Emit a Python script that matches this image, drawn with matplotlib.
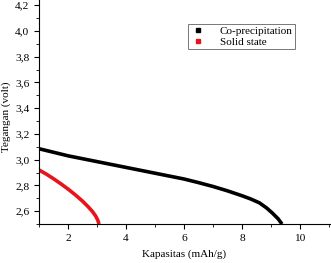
import matplotlib
matplotlib.use("Agg")
import matplotlib.pyplot as plt
from matplotlib.lines import Line2D
from matplotlib.ticker import MultipleLocator, FuncFormatter

# Co-precipitation discharge curve
co_x = [1.0, 2.0, 3.0, 4.0, 5.0, 6.0, 6.5, 7.0, 7.5, 8.0, 8.3, 8.6, 8.85, 9.05, 9.25, 9.38]
co_y = [3.085, 3.03, 2.985, 2.94, 2.895, 2.85, 2.822, 2.792, 2.758, 2.72, 2.695, 2.665, 2.625, 2.585, 2.54, 2.5]

# Solid state discharge curve
ss_x = [1.0, 1.25, 1.5, 1.75, 2.0, 2.25, 2.5, 2.7, 2.85, 2.95, 3.02, 3.07]
ss_y = [2.92, 2.888, 2.852, 2.813, 2.772, 2.727, 2.678, 2.633, 2.595, 2.563, 2.533, 2.5]

labels = ["Co-precipitation", "Solid state"]
colors = ["black", "#e8141b"]

plt.rcParams["font.family"] = ["Liberation Serif", "DejaVu Serif"]

fig = plt.figure(figsize=(3.31, 2.63), dpi=100)
ax = fig.add_axes([0.118, 0.148, 0.882, 0.852])

ax.plot(co_x, co_y, color=colors[0], lw=2.6, solid_capstyle="butt")
ax.plot(ss_x, ss_y, color=colors[1], lw=2.6, solid_capstyle="butt")

ax.set_xlim(1, 11.07)
ax.set_ylim(2.5, 4.24)

ax.spines["top"].set_visible(False)
ax.spines["right"].set_visible(False)

ax.xaxis.set_major_locator(MultipleLocator(2))
ax.xaxis.set_minor_locator(MultipleLocator(1))
ax.yaxis.set_major_locator(MultipleLocator(0.2))
ax.yaxis.set_minor_locator(MultipleLocator(0.1))
ax.yaxis.set_major_formatter(FuncFormatter(lambda v, p: ("%.1f" % v).replace(".", ",")))
ax.xaxis.set_major_formatter(FuncFormatter(lambda v, p: "%d" % v))

ax.tick_params(which="major", length=3.5, width=0.8, labelsize=8.2, direction="out")
ax.tick_params(which="minor", length=2, width=0.6, direction="out")

ax.set_xlabel("Kapasitas (mAh/g)", fontsize=8)
ax.set_ylabel("Tegangan (volt)", fontsize=8)
ax.xaxis.set_label_coords(0.497, -0.115)
ax.yaxis.set_label_coords(-0.095, 0.478)

handles = [Line2D([], [], color=c, marker="s", markersize=2.5, linestyle="none") for c in colors]
leg = fig.legend(handles, labels, loc="upper left", bbox_to_anchor=(0.55, 0.93),
                 fontsize=8, frameon=True, fancybox=False, handlelength=1.5,
                 handletextpad=1.2, borderpad=0.2, labelspacing=0.1)
leg.get_frame().set_edgecolor("#555555")
leg.get_frame().set_linewidth(0.7)

fig.savefig("out.png", dpi=100)
